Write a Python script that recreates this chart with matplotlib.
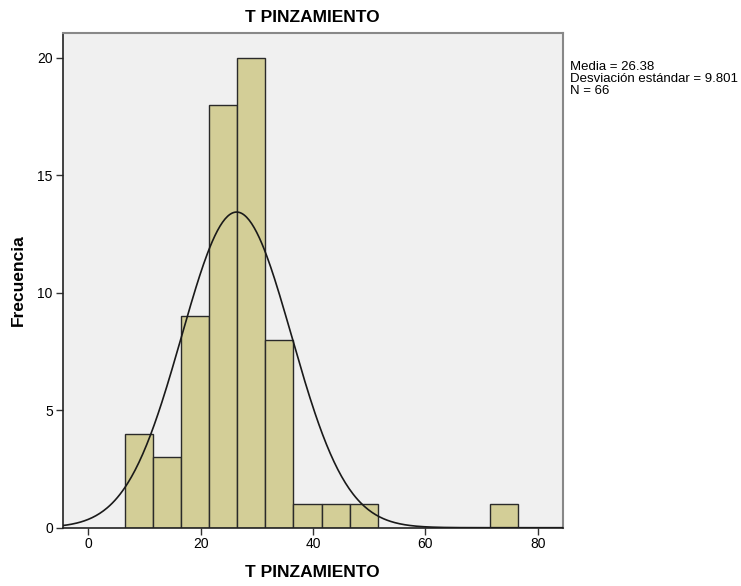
import matplotlib.pyplot as plt
import numpy as np

# histogram data
bin_left = [6.5, 11.5, 16.5, 21.5, 26.5, 31.5, 36.5, 41.5, 46.5, 71.5]
counts = [4, 3, 9, 18, 20, 8, 1, 1, 1, 1]
bin_width = 5
media = 26.38
desv = 9.801
n = 66

plt.rcParams['font.family'] = ['Liberation Sans Narrow', 'Liberation Sans', 'DejaVu Sans']

fig = plt.figure(figsize=(7.41, 5.86), dpi=100)
ax = fig.add_axes([62.5 / 741, 1 - 527.7 / 586, (562.7 - 62.5) / 741, (527.7 - 33.3) / 586])
ax.set_facecolor('#F0F0F0')

ax.bar(bin_left, counts, width=bin_width, align='edge',
       color='#D3CE97', edgecolor='#2a2a2a', linewidth=1.0, zorder=2)

# normal curve scaled to counts
x = np.linspace(-5, 85, 400)
y = n * bin_width / (desv * np.sqrt(2 * np.pi)) * np.exp(-0.5 * ((x - media) / desv) ** 2)
ax.plot(x, y, color='#1a1a1a', linewidth=1.2, zorder=3)

ax.set_xlim(-4.63, 84.45)
ax.set_ylim(0, 21.04)
ax.set_xticks([0, 20, 40, 60, 80])
ax.set_yticks([0, 5, 10, 15, 20])
ax.tick_params(direction='out', length=5, width=1, labelsize=10, color='#333333', pad=2)

for s in ['top', 'right']:
    ax.spines[s].set_color('#888888')
    ax.spines[s].set_linewidth(1.5)
for s in ['left', 'bottom']:
    ax.spines[s].set_color('#222222')
    ax.spines[s].set_linewidth(1.2)

ax.set_title('T PINZAMIENTO', fontsize=12.5, fontweight='bold', pad=8)
ax.set_xlabel('T PINZAMIENTO', fontsize=12.5, fontweight='bold', labelpad=10)
ax.set_ylabel('Frecuencia', fontsize=12.5, fontweight='bold', labelpad=8)

fig.text(570 / 741, 1 - 61 / 586,
         'Media = %.2f\nDesviación estándar = %.3f\nN = %d' % (media, desv, n),
         fontsize=9.5, va='top', ha='left', linespacing=1.0)

fig.savefig('out.png', dpi=100)
